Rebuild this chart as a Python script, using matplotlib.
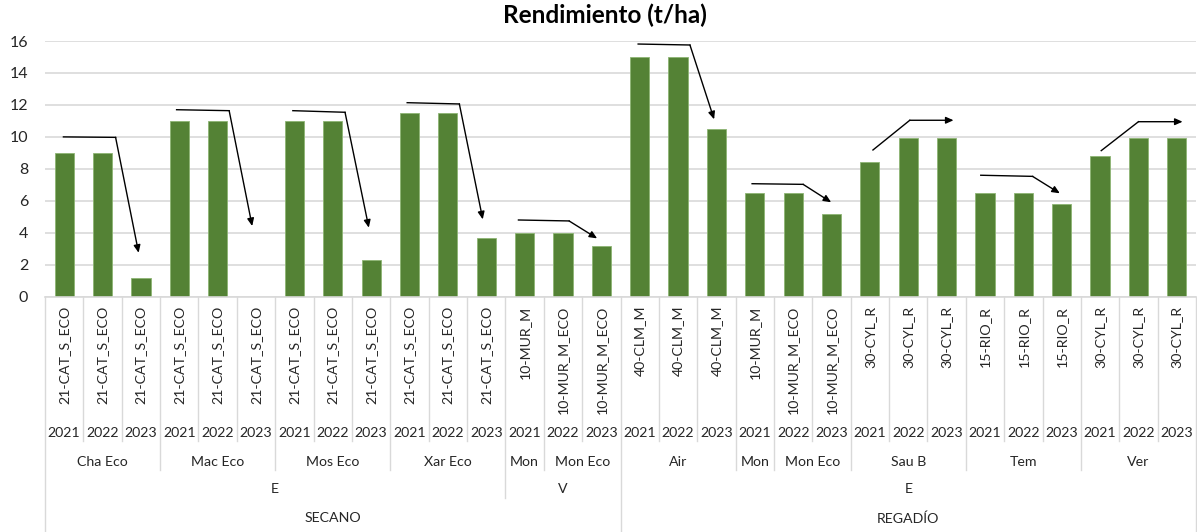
import numpy as np
import matplotlib.pyplot as plt
from matplotlib.transforms import blended_transform_factory
from itertools import groupby

plt.rcParams['font.family'] = ['Lato', 'DejaVu Sans']

# categorias (4 niveles) y valores
muestras = (['21-CAT_S_ECO'] * 12
            + ['10-MUR_M', '10-MUR_M_ECO', '10-MUR_M_ECO']
            + ['40-CLM_M'] * 3
            + ['10-MUR_M', '10-MUR_M_ECO', '10-MUR_M_ECO']
            + ['30-CYL_R'] * 3 + ['15-RIO_R'] * 3 + ['30-CYL_R'] * 3)
anios = ['2021', '2022', '2023'] * 10
fincas = (['Cha Eco'] * 3 + ['Mac Eco'] * 3 + ['Mos Eco'] * 3 + ['Xar Eco'] * 3
          + ['Mon'] + ['Mon Eco'] * 2 + ['Air'] * 3 + ['Mon'] + ['Mon Eco'] * 2
          + ['Sau B'] * 3 + ['Tem'] * 3 + ['Ver'] * 3)
tipo = ['E'] * 12 + ['V'] * 3 + ['E'] * 15
manejo = ['SECANO'] * 15 + ['REGADÍO'] * 15
rendimiento = [9, 9, 1.2, 11, 11, 0, 11, 11, 2.3, 11.5, 11.5, 3.65,
               4, 4, 3.2, 15, 15, 10.5, 6.5, 6.5, 5.2,
               8.4, 9.9, 9.9, 6.5, 6.5, 5.8, 8.8, 9.9, 9.9]

# flechas de tendencia dibujadas a mano (inicio, codo, punta) en coords de datos
flechas = [
    ((-0.02, 10.0), (1.34, 9.97), (1.94, 2.75)),
    ((2.93, 11.7), (4.30, 11.64), (4.90, 4.42)),
    ((5.96, 11.64), (7.32, 11.54), (7.94, 4.32)),
    ((8.94, 12.14), (10.30, 12.06), (10.91, 4.84)),
    ((11.84, 4.80), (13.16, 4.74), (13.89, 3.65)),
    ((14.96, 15.81), (16.31, 15.75), (16.94, 11.10)),
    ((17.93, 7.07), (19.26, 7.03), (19.99, 5.91)),
    ((21.08, 9.18), (22.04, 11.04), (23.18, 11.04)),
    ((23.89, 7.60), (25.24, 7.53), (25.95, 6.47)),
    ((27.03, 9.14), (28.0, 10.95), (29.15, 10.95)),
]

W, H = 1197, 532
gris = '#d9d9d9'
texto = '#262626'
fs = 10.2

fig = plt.figure(figsize=(W / 100, H / 100), dpi=100)
ax = fig.add_axes([45 / W, 1 - 296.7 / H, 1151 / W, 255.7 / H])

x = np.arange(len(rendimiento))
ax.bar(x, rendimiento, width=0.5, color='#548235', edgecolor='#8db573',
       linewidth=0.6, zorder=2)

ax.set_xlim(-0.5, len(x) - 0.5)
ax.set_ylim(0, 16)
ax.set_yticks(np.arange(0, 17, 2))
ax.set_xticks([])
ax.yaxis.grid(True, color=gris, linewidth=1.2)
ax.set_axisbelow(True)
for s in ['top', 'right', 'left']:
    ax.spines[s].set_visible(False)
ax.spines['bottom'].set_color(gris)
ax.spines['bottom'].set_linewidth(1.2)
ax.tick_params(axis='y', length=0, pad=12, labelsize=11.5, labelcolor=texto)

# flechas
for ini, codo, punta in flechas:
    ax.plot([ini[0], codo[0]], [ini[1], codo[1]], color='black', lw=1.0, zorder=3)
    ax.annotate('', xy=punta, xytext=codo,
                arrowprops=dict(arrowstyle='-|>,head_length=0.45,head_width=0.2',
                                color='black', lw=1.0, shrinkA=0, shrinkB=0,
                                mutation_scale=10), zorder=3)

fig.text(0.505, 1 - 15 / H, 'Rendimiento (t/ha)', ha='center', va='center',
         fontsize=17.5, fontweight='bold', color='black')

# eje de categorias multinivel
trans = blended_transform_factory(ax.transData, fig.transFigure)
def fy(px):
    return 1 - px / H

for i in x:
    ax.text(i, fy(306), muestras[i], rotation=90, ha='center', va='top',
            transform=trans, fontsize=fs, color=texto)
    ax.text(i, fy(432.7), anios[i], ha='center', va='center',
            transform=trans, fontsize=fs, color=texto)

niveles = [(fincas, 461.7, 470), (tipo, 489.3, 498.3), (manejo, 518.3, H)]

# separadores
for b in range(len(x) + 1):
    fondo = 440.7
    if b == 0 or b == len(x):
        fondo = H
    else:
        for etiquetas, _, fin in niveles:
            if etiquetas[b - 1] != etiquetas[b]:
                fondo = fin
        if manejo[b - 1] != manejo[b]:
            fondo = H
        elif tipo[b - 1] != tipo[b]:
            fondo = max(fondo, 498.3)
    ax.plot([b - 0.5, b - 0.5], [fy(296.7), fy(fondo)], color=gris, lw=1.0,
            transform=trans, clip_on=False)

# etiquetas de grupo
claves = [list(zip(manejo, tipo, fincas)), list(zip(manejo, tipo)), manejo]
for (etiquetas, ypx, _), clave in zip(niveles, claves):
    pos = 0
    for k, grp in groupby(clave):
        n = len(list(grp))
        nombre = k if isinstance(k, str) else k[-1]
        ax.text(pos + (n - 1) / 2, fy(ypx), nombre, ha='center', va='center',
                transform=trans, fontsize=fs, color=texto)
        pos += n

fig.savefig('out.png', dpi=100)
